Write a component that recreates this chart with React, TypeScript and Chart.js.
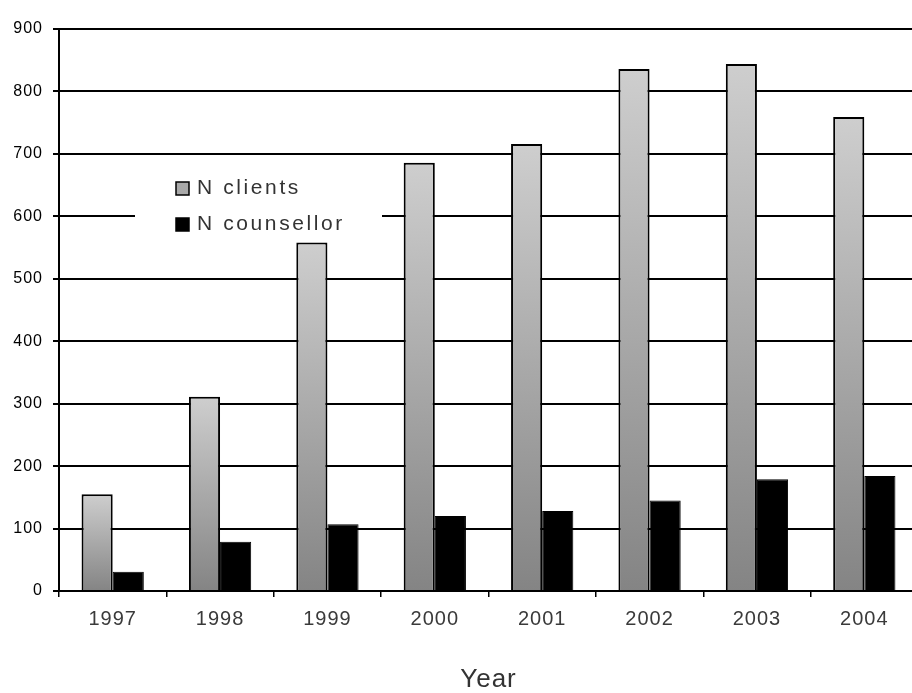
import React, { useEffect, useRef } from "react";
import { Chart, registerables } from "chart.js";

Chart.register(...registerables);

// Yearly totals
const years = ["1997", "1998", "1999", "2000", "2001", "2002", "2003", "2004"];
const clients = [155, 311, 558, 686, 716, 836, 844, 759];
const counsellors = [31, 79, 107, 120, 128, 145, 179, 184];
const yTicks = [0, 100, 200, 300, 400, 500, 600, 700, 800, 900];

const FONT = "'Liberation Sans', Arial, sans-serif";

// Vertical grey gradient for each client bar, from its top down to the zero line
function clientFill(c: any) {
  const chart = c.chart;
  const { ctx, chartArea, scales } = chart;
  if (!chartArea || c.type !== "data" || !scales.y) return "#aaaaaa";
  const top = scales.y.getPixelForValue(c.raw as number);
  const base = scales.y.getPixelForValue(0);
  if (!isFinite(top) || !isFinite(base) || top === base) return "#aaaaaa";
  const g = ctx.createLinearGradient(0, top, 0, base);
  g.addColorStop(0, "#cecece");
  g.addColorStop(1, "#848484");
  return g;
}

// Letter spacing for the axis text
const spacingPlugin = {
  id: "spacing",
  beforeDraw(chart: any) {
    (chart.ctx as any).letterSpacing = "1px";
  },
};

// Boxed legend sitting inside the plot area
const insetLegend = {
  id: "insetLegend",
  afterDraw(chart: any) {
    const ctx = chart.ctx as CanvasRenderingContext2D;
    ctx.save();
    (ctx as any).letterSpacing = "2.6px";
    ctx.fillStyle = "#ffffff";
    ctx.fillRect(135, 167, 247, 72);
    const swatches = ["#a9a9a9", "#000000"];
    chart.data.datasets.forEach((ds: any, i: number) => {
      const cy = 189 + i * 36;
      ctx.fillStyle = swatches[i];
      ctx.fillRect(176, cy - 7, 13, 13);
      ctx.strokeStyle = "#000";
      ctx.lineWidth = 1.5;
      ctx.strokeRect(176, cy - 7, 13, 13);
      ctx.fillStyle = "#333333";
      ctx.font = `21px ${FONT}`;
      ctx.textBaseline = "middle";
      ctx.textAlign = "left";
      ctx.fillText(ds.label, 197, cy - 1);
    });
    ctx.restore();
  },
};

export default function App() {
  const canvasRef = useRef<HTMLCanvasElement | null>(null);

  useEffect(() => {
    if (!canvasRef.current) return;
    Chart.defaults.font.family = FONT;
    const chart = new Chart(canvasRef.current, {
      type: "bar",
      data: {
        labels: years,
        datasets: [
          {
            label: "N clients",
            data: clients,
            backgroundColor: clientFill,
            borderColor: "#000000",
            borderWidth: 2,
            categoryPercentage: 0.58,
            barPercentage: 1,
          },
          {
            label: "N counsellor",
            data: counsellors,
            backgroundColor: "#000000",
            borderColor: "#000000",
            borderWidth: 1,
            categoryPercentage: 0.58,
            barPercentage: 1,
          },
        ],
      },
      options: {
        animation: false,
        responsive: true,
        maintainAspectRatio: false,
        layout: { padding: { top: 29, right: 2, bottom: 0, left: 0 } },
        plugins: {
          legend: { display: false },
          tooltip: { enabled: false },
        },
        scales: {
          x: {
            offset: true,
            afterFit(scale: any) {
              scale.height = 102;
            },
            grid: {
              offset: true,
              drawOnChartArea: false,
              drawTicks: true,
              tickLength: 6,
              color: "#000000",
              lineWidth: 1.5,
            },
            border: { display: true, color: "#000000", width: 2 },
            ticks: {
              color: "#3a3a3a",
              font: { size: 20, family: FONT },
              padding: 10,
              maxRotation: 0,
            },
            title: {
              display: true,
              text: "Year",
              color: "#333333",
              font: { size: 26, family: FONT, lineHeight: 1 },
              padding: { top: 0, bottom: 0 },
            },
          },
          y: {
            min: yTicks[0],
            max: yTicks[yTicks.length - 1],
            afterFit(scale: any) {
              scale.width = 59;
            },
            afterBuildTicks(scale: any) {
              scale.ticks = yTicks.map((v) => ({ value: v }));
            },
            grid: {
              color: "#000000",
              lineWidth: 2,
              drawTicks: true,
              tickLength: 6,
            },
            border: { display: true, color: "#000000", width: 2 },
            ticks: {
              color: "#000000",
              font: { size: 16, family: FONT },
              padding: 10,
            },
          },
        },
      },
      plugins: [spacingPlugin, insetLegend],
    });
    return () => chart.destroy();
  }, []);

  return (
    <div
      style={{
        position: "fixed",
        left: 0,
        top: 0,
        width: 912,
        height: 693,
        overflow: "hidden",
        background: "#ffffff",
      }}
    >
      <div style={{ position: "relative", width: 920, height: 693 }}>
        <canvas ref={canvasRef} />
      </div>
    </div>
  );
}
